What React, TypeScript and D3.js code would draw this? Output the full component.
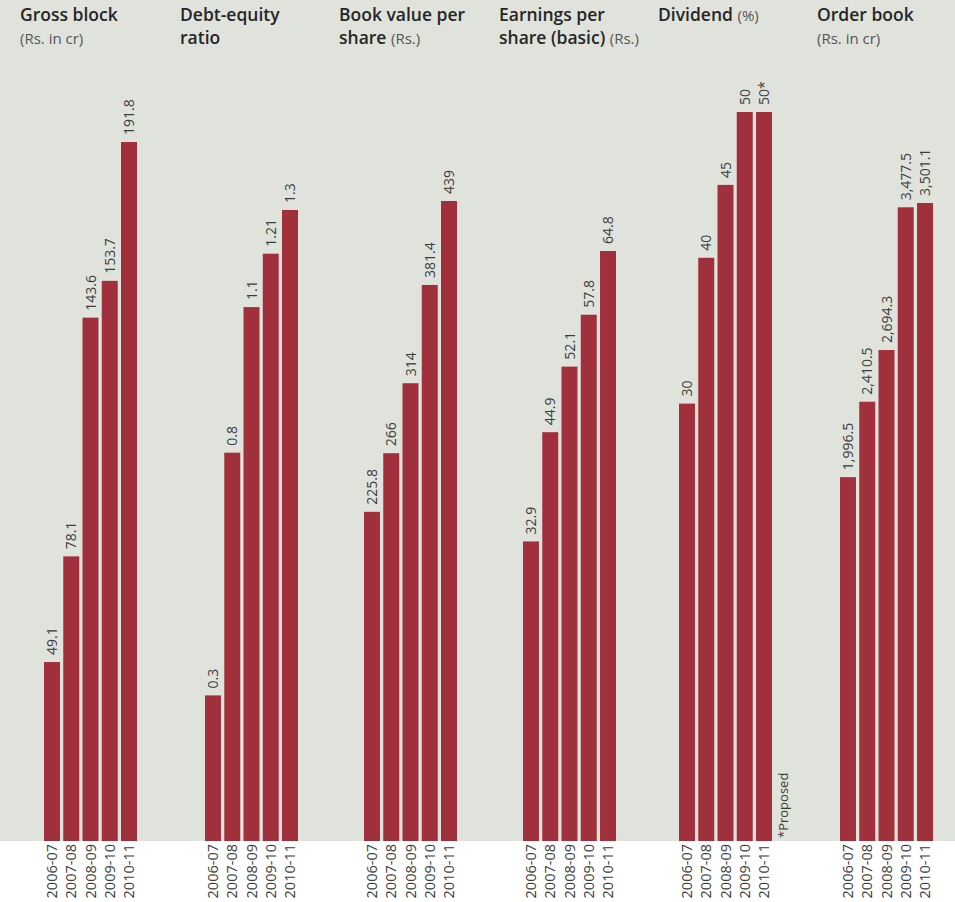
import React, { useEffect, useRef } from 'react';
import * as d3 from 'd3';

const years = ['2006-07', '2007-08', '2008-09', '2009-10', '2010-11'];

const grossBlock = [49.1, 78.1, 143.6, 153.7, 191.8];
const debtEquity = [0.3, 0.8, 1.1, 1.21, 1.3];
const bookValue = [225.8, 266, 314, 381.4, 439];
const epsBasic = [32.9, 44.9, 52.1, 57.8, 64.8];
const dividend = [30, 40, 45, 50, 50];
const orderBook = [1996.5, 2410.5, 2694.3, 3477.5, 3501.1];

const dividendLabels = ['30', '40', '45', '50', '50*'];

// title lines: [main text, small grey unit]
const panels = [
  { lines: [['Gross block', ''], ['', '(Rs. in cr)']], values: grossBlock, fmt: (v: number) => String(v) },
  { lines: [['Debt-equity', ''], ['ratio', '']], values: debtEquity, fmt: (v: number) => String(v) },
  { lines: [['Book value per', ''], ['share  ', '(Rs.)']], values: bookValue, fmt: (v: number) => String(v) },
  { lines: [['Earnings per', ''], ['share (basic) ', '(Rs.)']], values: epsBasic, fmt: (v: number) => String(v) },
  { lines: [['Dividend ', '(%)']], values: dividend, fmt: (_v: number, i: number) => dividendLabels[i] },
  { lines: [['Order book', ''], ['', '(Rs. in cr)']], values: orderBook, fmt: (v: number) => d3.format(',.1f')(v) },
];

// layout (pixels)
const W = 955;
const H = 902;
const baseY = 841;
const groupX = [44, 205, 364, 523, 679, 840];
const titleX = [20, 180, 339, 499, 658, 817];
const maxPx = [699, 631, 640, 590, 729, 638];
const font = "'Open Sans', 'Noto Sans', sans-serif";

export default function App() {
  const ref = useRef<SVGSVGElement>(null);

  useEffect(() => {
    const svg = d3.select(ref.current);
    svg.selectAll('*').remove();

    svg.append('rect').attr('width', W).attr('height', baseY).attr('fill', '#e0e3dc');
    svg.append('rect').attr('y', baseY).attr('width', W).attr('height', H - baseY).attr('fill', '#ffffff');

    panels.forEach((p, pi) => {
      const x = d3.scaleBand().domain(years).range([groupX[pi], groupX[pi] + 93]).paddingInner(0.17).paddingOuter(0);
      const max = d3.max(p.values) as number;
      const y = d3.scaleLinear().domain([0, max]).range([baseY, baseY - maxPx[pi]]);

      const g = svg.append('g');

      // title
      p.lines.forEach((ln, li) => {
        const t = g.append('text')
          .attr('x', titleX[pi])
          .attr('y', li === 0 ? 21 : 44)
          .attr('font-family', font);
        if (ln[0]) t.append('tspan').attr('font-size', 17.5).attr('font-weight', 600).attr('fill', '#262626').text(ln[0]);
        if (ln[1]) t.append('tspan').attr('font-size', 15).attr('fill', '#555').text(ln[1]);
      });

      g.selectAll('rect.bar')
        .data(p.values)
        .enter()
        .append('rect')
        .attr('x', (_d, i) => x(years[i]) as number)
        .attr('y', d => y(d))
        .attr('width', x.bandwidth())
        .attr('height', d => baseY - y(d))
        .attr('fill', '#a0303b');

      // value labels
      g.selectAll('text.val')
        .data(p.values)
        .enter()
        .append('text')
        .attr('transform', (d, i) => {
          const cx = (x(years[i]) as number) + x.bandwidth() / 2;
          return `translate(${cx},${y(d) - 7}) rotate(-90)`;
        })
        .attr('dy', '0.36em')
        .attr('font-family', font)
        .attr('font-size', 14)
        .attr('fill', '#3c3c3c')
        .text((d, i) => p.fmt(d, i));

      // year labels
      g.selectAll('text.yr')
        .data(years)
        .enter()
        .append('text')
        .attr('transform', d => {
          const cx = (x(d) as number) + x.bandwidth() / 2;
          return `translate(${cx},${baseY + 3}) rotate(-90)`;
        })
        .attr('dy', '0.36em')
        .attr('text-anchor', 'end')
        .attr('font-family', font)
        .attr('font-size', 14.5)
        .attr('fill', '#3c3c3c')
        .text(d => d);

      if (pi === 4) {
        const cx = groupX[pi] + 93 + 11;
        g.append('text')
          .attr('transform', `translate(${cx},${baseY - 3}) rotate(-90)`)
          .attr('dy', '0.36em')
          .attr('font-family', font)
          .attr('font-size', 13)
          .attr('fill', '#3c3c3c')
          .text('*Proposed');
      }
    });
  }, []);

  return (
    <svg
      ref={ref}
      width={W}
      height={H}
      viewBox={`0 0 ${W} ${H}`}
      style={{ position: 'absolute', left: 0, top: 0, display: 'block' }}
    />
  );
}
